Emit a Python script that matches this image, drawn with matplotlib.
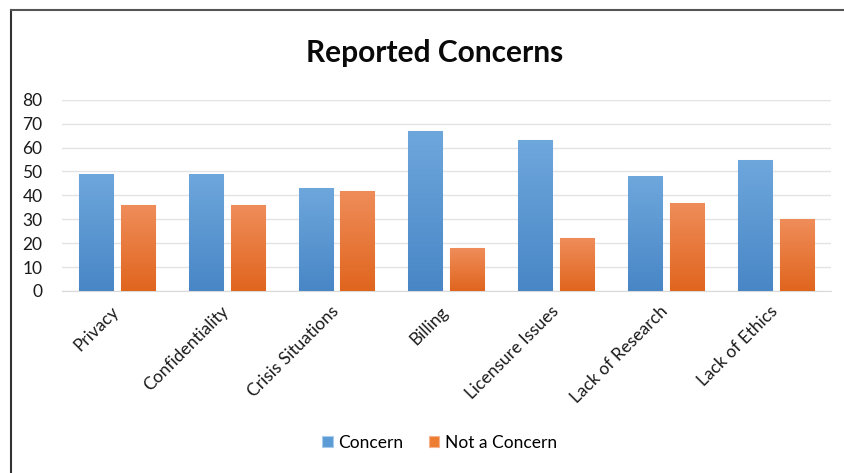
import numpy as np
import matplotlib.pyplot as plt
from matplotlib.lines import Line2D
from matplotlib.colors import LinearSegmentedColormap
from matplotlib.transforms import ScaledTranslation

plt.rcParams['font.family'] = ['Lato', 'DejaVu Sans']

categories = ['Privacy', 'Confidentiality', 'Crisis Situations', 'Billing',
              'Licensure Issues', 'Lack of Research', 'Lack of Ethics']
concern = [49, 49, 43, 67, 63, 48, 55]
not_concern = [36, 36, 42, 18, 22, 37, 30]

blue = '#5B9BD5'
orange = '#ED7D31'
blue_cmap = LinearSegmentedColormap.from_list('b', ['#4886C6', '#6EA7DC'])
orange_cmap = LinearSegmentedColormap.from_list('o', ['#E0651E', '#EF8D5A'])

fig = plt.figure(figsize=(8.45, 4.73), dpi=100)
ax = fig.add_axes([0.0734, 0.385, 0.9096, 0.404])

x = np.arange(len(categories))
w = 0.31
b1 = ax.bar(x - w / 2 - 0.035, concern, w, color=blue, label='Concern',
            edgecolor='#A9CBEB', linewidth=0.8, zorder=3)
b2 = ax.bar(x + w / 2 + 0.035, not_concern, w, color=orange, label='Not a Concern',
            edgecolor='#F5B48F', linewidth=0.8, zorder=3)

# vertical gradient fill inside each bar
grad = np.linspace(0, 1, 256).reshape(-1, 1)
for bars, cmap in [(b1, blue_cmap), (b2, orange_cmap)]:
    for bar in bars:
        x0, y0 = bar.get_x(), bar.get_y()
        im = ax.imshow(grad, cmap=cmap, origin='lower', aspect='auto',
                       extent=[x0, x0 + bar.get_width(), y0, y0 + bar.get_height()],
                       zorder=3.5)
        im.set_clip_path(bar)

ax.set_xlim(-0.5, len(categories) - 0.5)
ax.set_ylim(0, 80)
ax.set_yticks(range(0, 81, 10))
ax.grid(axis='y', color='#E3E3E3', linewidth=1, zorder=0)
for s in ['top', 'right', 'left']:
    ax.spines[s].set_visible(False)
ax.spines['bottom'].set_color('#D9D9D9')
ax.tick_params(axis='both', length=0, labelsize=12.5, colors='#1A1A1A')
ax.tick_params(axis='y', pad=14)
ax.set_xticks(x)
ax.set_xticklabels(categories, rotation=45, ha='right', rotation_mode='anchor')
ax.tick_params(axis='x', pad=9)
shift = ScaledTranslation(-6 / 100, 0, fig.dpi_scale_trans)
for lbl in ax.get_xticklabels():
    lbl.set_transform(lbl.get_transform() + shift)

fig.text(0.514, 0.888, 'Reported Concerns', ha='center', va='center',
         fontsize=21.5, fontweight='bold', color='#0A0A0A')

fig.legend(loc='center', bbox_to_anchor=(0.52, 0.064), ncol=2, frameon=False,
           fontsize=12.5, handlelength=0.6, handleheight=0.6, handletextpad=0.3,
           columnspacing=1.5)

# outer frame (left and top edges)
fig.add_artist(Line2D([0.013, 0.013], [0, 0.979], color='#333333', linewidth=1.5))
fig.add_artist(Line2D([0.013, 1.0], [0.979, 0.979], color='#555555', linewidth=1.5))

fig.savefig('out.png', dpi=100)
